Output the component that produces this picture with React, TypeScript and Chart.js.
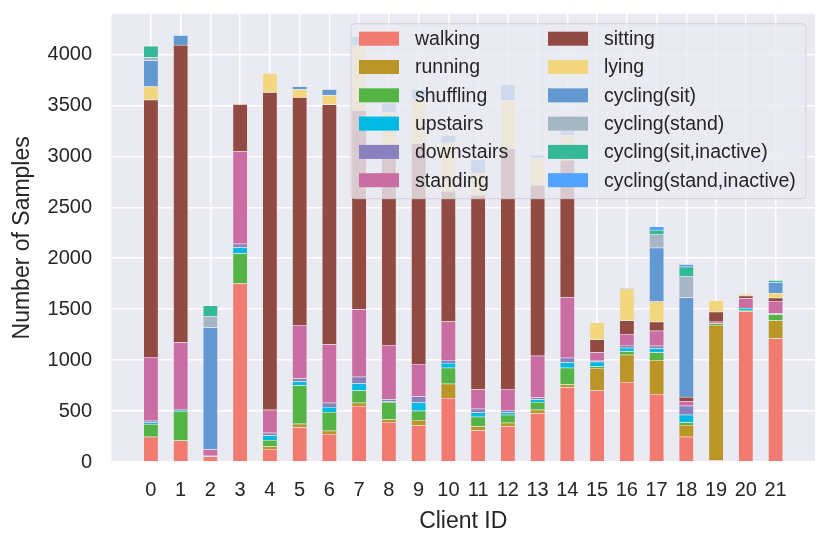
import React, { useEffect, useRef } from 'react';
import { Chart, registerables } from 'chart.js';

Chart.register(...registerables);

const clientIds = [0, 1, 2, 3, 4, 5, 6, 7, 8, 9, 10, 11, 12, 13, 14, 15, 16, 17, 18, 19, 20, 21];

const activities = [
  'walking', 'running', 'shuffling', 'upstairs', 'downstairs', 'standing',
  'sitting', 'lying', 'cycling(sit)', 'cycling(stand)', 'cycling(sit,inactive)', 'cycling(stand,inactive)',
];

const walking = [247, 211, 53, 1753, 128, 342, 276, 549, 392, 359, 628, 309, 352, 477, 734, 703, 785, 667, 249, 16, 1478, 1213];
const running = [0, 0, 0, 0, 23, 33, 30, 33, 26, 52, 139, 43, 33, 36, 26, 219, 268, 334, 114, 1328, 0, 177];
const shuffling = [125, 289, 0, 297, 66, 378, 184, 119, 171, 92, 157, 92, 79, 76, 164, 16, 33, 75, 26, 16, 13, 59];
const upstairs = [16, 13, 9, 56, 43, 40, 50, 69, 7, 83, 47, 43, 23, 26, 56, 46, 36, 39, 75, 0, 20, 0];
const downstairs = [17, 0, 0, 36, 26, 26, 42, 66, 19, 59, 29, 36, 23, 17, 43, 10, 26, 26, 89, 0, 0, 9];
const standing = [625, 662, 60, 906, 227, 525, 573, 662, 533, 316, 380, 188, 207, 411, 592, 82, 108, 147, 42, 17, 95, 121];
const sitting = [2525, 2919, 0, 464, 3117, 2237, 2354, 1954, 1832, 2166, 1280, 1910, 2361, 1676, 1348, 127, 134, 89, 43, 98, 26, 33];
const lying = [130, 0, 0, 5, 186, 78, 91, 636, 456, 440, 473, 212, 472, 267, 245, 167, 314, 199, 0, 111, 16, 46];
const cyclingSit = [255, 92, 1199, 0, 0, 26, 59, 88, 88, 88, 75, 137, 154, 26, 49, 0, 0, 527, 977, 0, 0, 105];
const cyclingStand = [33, 0, 108, 0, 0, 0, 0, 0, 0, 0, 0, 0, 0, 0, 0, 0, 0, 134, 206, 0, 0, 0];
const cyclingSitInactive = [111, 0, 108, 0, 0, 0, 0, 0, 0, 0, 0, 0, 0, 0, 0, 0, 0, 39, 95, 0, 0, 22];
const cyclingStandInactive = [0, 9, 0, 0, 4, 5, 0, 0, 0, 0, 0, 0, 0, 0, 0, 0, 6, 36, 26, 0, 0, 0];

const yTicks = [0, 500, 1000, 1500, 2000, 2500, 3000, 3500, 4000];

const series = [walking, running, shuffling, upstairs, downstairs, standing, sitting, lying,
  cyclingSit, cyclingStand, cyclingSitInactive, cyclingStandInactive];

const colors = [
  '#F27B71', '#BA9628', '#55B446', '#00BAE3', '#8980BE', '#C96DA2',
  '#924B43', '#F2D77F', '#6399D3', '#A6B6C4', '#33B998', '#52A2FF',
];

const FONT = "'Liberation Sans', Arial, sans-serif";
const TEXT = '#262626';

// grey plot background
const background = {
  id: 'background',
  beforeDraw(chart: any) {
    const { ctx, chartArea: a } = chart;
    ctx.save();
    ctx.fillStyle = '#EAEAF2';
    ctx.fillRect(a.left, a.top, a.right - a.left, a.bottom - a.top);
    ctx.restore();
  },
};

// two-column legend inside the plot, column-major like matplotlib
const innerLegend = {
  id: 'innerLegend',
  afterDatasetsDraw(chart: any) {
    const { ctx, chartArea: a } = chart;
    const w = 455;
    const h = 175;
    const x = a.right - 9 - w;
    const y = a.top + 10;
    ctx.save();
    ctx.beginPath();
    ctx.roundRect(x, y, w, h, 4);
    ctx.fillStyle = 'rgba(234,234,242,0.8)';
    ctx.fill();
    ctx.strokeStyle = 'rgba(204,204,204,0.8)';
    ctx.lineWidth = 1;
    ctx.stroke();
    ctx.font = `19.5px ${FONT}`;
    ctx.textBaseline = 'middle';
    chart.data.datasets.forEach((ds: any, i: number) => {
      const col = Math.floor(i / 6);
      const row = i % 6;
      const sx = x + 8 + col * 189;
      const cy = y + 15 + row * 28.3;
      ctx.fillStyle = ds.backgroundColor;
      ctx.fillRect(sx, cy - 7, 40, 14);
      ctx.fillStyle = TEXT;
      ctx.fillText(ds.label, sx + 56, cy + 1);
    });
    ctx.restore();
  },
};

const App: React.FC = () => {
  const canvasRef = useRef<HTMLCanvasElement | null>(null);

  useEffect(() => {
    if (!canvasRef.current) return;
    const chart = new Chart(canvasRef.current, {
      type: 'bar',
      data: {
        labels: clientIds,
        datasets: activities.map((name, i) => ({
          label: name,
          data: series[i],
          backgroundColor: colors[i],
          borderColor: 'rgba(255,255,255,0.35)',
          borderWidth: 0.5,
          barPercentage: 0.5,
          categoryPercentage: 1,
        })),
      },
      options: {
        animation: false,
        responsive: true,
        maintainAspectRatio: false,
        layout: { padding: { top: 13.7, right: 15, left: 0, bottom: 0 } },
        plugins: {
          legend: { display: false },
          tooltip: { enabled: false },
        },
        scales: {
          x: {
            type: 'linear',
            stacked: true,
            offset: false,
            min: -1.325,
            max: 22.325,
            afterBuildTicks: (scale: any) => {
              scale.ticks = clientIds.map((v) => ({ value: v }));
            },
            afterFit: (scale: any) => {
              scale.height = 84;
              scale.paddingLeft = 0;
              scale.paddingRight = 0;
            },
            ticks: {
              stepSize: 1,
              includeBounds: false,
              autoSkip: false,
              maxRotation: 0,
              padding: 16,
              color: TEXT,
              font: { family: FONT, size: 20 },
            },
            grid: { color: '#FFFFFF', lineWidth: 1.5, drawTicks: false, offset: false },
            border: { display: false },
            title: {
              display: true,
              text: 'Client ID',
              color: TEXT,
              font: { family: FONT, size: 23 },
              padding: { top: 0, bottom: 11 },
            },
          },
          y: {
            stacked: true,
            min: 0,
            max: 4400,
            afterBuildTicks: (scale: any) => {
              scale.ticks = yTicks.map((v) => ({ value: v }));
            },
            afterFit: (scale: any) => {
              scale.width = 111.5;
              scale.paddingTop = 0;
              scale.paddingBottom = 0;
            },
            ticks: {
              padding: 19.5,
              color: TEXT,
              font: { family: FONT, size: 20 },
              callback: (v: any) => String(v),
            },
            grid: { color: '#FFFFFF', lineWidth: 1.5, drawTicks: false },
            border: { display: false },
            title: {
              display: true,
              text: 'Number of Samples',
              color: TEXT,
              font: { family: FONT, size: 23 },
              padding: { top: 9, bottom: 0 },
            },
          },
        },
      },
      plugins: [background, innerLegend],
    });

    return () => {
      chart.destroy();
    };
  }, []);

  return (
    <div style={{ position: 'absolute', left: 0, top: 0, width: 830, height: 546, background: '#FFFFFF' }}>
      <canvas ref={canvasRef}></canvas>
    </div>
  );
};

export default App;
